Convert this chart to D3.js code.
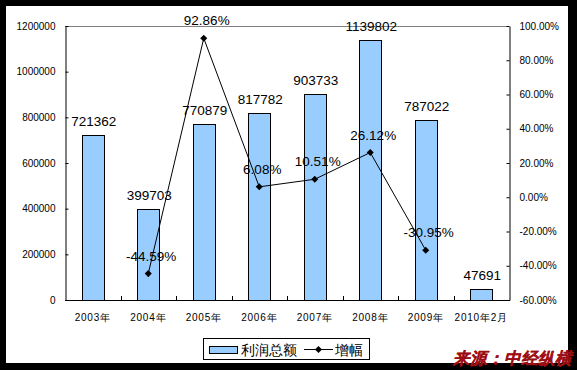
<!DOCTYPE html>
<html><head><meta charset="utf-8">
<script src="https://cdn.jsdelivr.net/npm/d3@7"></script>
<style>
html,body{margin:0;padding:0;background:#fff;}
text{font-family:Arial,"Liberation Sans",sans-serif;}
</style></head>
<body><svg id="c" width="577" height="370"></svg>
<script>
const categories = ["2003年","2004年","2005年","2006年","2007年","2008年","2009年","2010年2月"];
const profitTotal = [721362,399703,770879,817782,903733,1139802,787022,47691];
const growth = [null,-44.59,92.86,6.08,10.51,26.12,-30.95,null];
const leftTicks = [0,200000,400000,600000,800000,1000000,1200000];
const rightTicks = [-60,-40,-20,0,20,40,60,80,100];
const seriesNames = ["利润总额","增幅"];
const sourceText = "来源：中经纵横";

const svg = d3.select("#c");
const W = 577, H = 370;
const m = {l:65, r:509, t:26, b:300};
const pct = d => d.toFixed(2) + "%";

svg.append("rect").attr("width",W).attr("height",H).attr("fill","#000");
svg.append("rect").attr("x",6).attr("y",6).attr("width",562).attr("height",357).attr("fill","#fff");

const x = d3.scaleBand().domain(categories).range([m.l,m.r]).padding(0);
const yL = d3.scaleLinear().domain([0,1200000]).range([m.b,m.t]);
const yR = d3.scaleLinear().domain([-60,100]).range([m.b,m.t]);

// top border of plot area
svg.append("line").attr("x1",m.l).attr("x2",m.r).attr("y1",m.t+0.5).attr("y2",m.t+0.5)
  .attr("stroke","#808080").attr("stroke-width",1);

// bars
const bw = x.bandwidth()*0.4;
svg.append("g").selectAll("rect").data(profitTotal).join("rect")
  .attr("x",(d,i)=>Math.round(x(categories[i])+x.bandwidth()/2-bw/2)+0.5)
  .attr("y",d=>Math.round(yL(d))+0.5)
  .attr("width",Math.round(bw))
  .attr("height",d=>m.b-Math.round(yL(d)))
  .attr("fill","#99ccff").attr("stroke","#000").attr("stroke-width",1);

// left axis
const gL = svg.append("g").attr("transform",`translate(${m.l+0.5},0)`)
  .call(d3.axisLeft(yL).tickValues(leftTicks).tickFormat(d=>String(d)).tickSize(-3).tickSizeOuter(0).tickPadding(10));
gL.select(".domain").attr("stroke","#000");
gL.selectAll(".tick line").attr("stroke","#000");
gL.selectAll("text").attr("font-size","10px").attr("fill","#000").attr("font-family","Arial");

// right axis
const gR = svg.append("g").attr("transform",`translate(${m.r+0.5},0)`)
  .call(d3.axisRight(yR).tickValues(rightTicks).tickFormat(pct).tickSize(-3).tickSizeOuter(0).tickPadding(10));
gR.select(".domain").attr("stroke","#000");
gR.selectAll(".tick line").attr("stroke","#000");
gR.selectAll("text").attr("font-size","10px").attr("fill","#000").attr("font-family","Arial");

// bottom axis
svg.append("line").attr("x1",m.l).attr("x2",m.r+1).attr("y1",m.b+0.5).attr("y2",m.b+0.5).attr("stroke","#000");
const bounds = categories.map(c=>x(c)).slice(1);
svg.append("g").selectAll("line").data(bounds).join("line")
  .attr("x1",d=>Math.round(d)+0.5).attr("x2",d=>Math.round(d)+0.5)
  .attr("y1",m.b).attr("y2",m.b-4).attr("stroke","#000");
svg.append("g").selectAll("text").data(categories).join("text")
  .attr("x",d=>x(d)+x.bandwidth()/2).attr("y",321)
  .attr("text-anchor","middle").attr("font-size","10px").attr("letter-spacing","0.8px")
  .attr("font-family","Arial, 'Noto Sans CJK SC'")
  .text(d=>d);

// bar labels
svg.append("g").selectAll("text").data(profitTotal).join("text")
  .attr("x",(d,i)=>x(categories[i])+x.bandwidth()/2+1)
  .attr("y",d=>yL(d)-9)
  .attr("text-anchor","middle").attr("font-size","13.5px").attr("fill","#000")
  .text(d=>d);

// line
const pts = growth.map((g,i)=>({g,c:categories[i]})).filter(p=>p.g!==null);
const line = d3.line().x(p=>x(p.c)+x.bandwidth()/2).y(p=>yR(p.g));
svg.append("path").datum(pts).attr("d",line).attr("fill","none").attr("stroke","#000").attr("stroke-width",1);
const sym = d3.symbol().type(d3.symbolSquare).size(25);
svg.append("g").selectAll("path").data(pts).join("path")
  .attr("d",sym)
  .attr("transform",p=>`translate(${x(p.c)+x.bandwidth()/2},${yR(p.g)}) rotate(45)`)
  .attr("fill","#000");
svg.append("g").selectAll("text").data(pts).join("text")
  .attr("x",p=>x(p.c)+x.bandwidth()/2+3)
  .attr("y",p=>yR(p.g)-13)
  .attr("text-anchor","middle").attr("font-size","13.5px").attr("fill","#000")
  .text(p=>pct(p.g));

// legend
const lg = svg.append("g");
lg.append("rect").attr("x",203.5).attr("y",338.5).attr("width",166).attr("height",21)
  .attr("fill","#fff").attr("stroke","#000");
lg.append("rect").attr("x",209.5).attr("y",346.5).attr("width",28).attr("height",7)
  .attr("fill","#99ccff").attr("stroke","#000");
lg.append("text").attr("x",241).attr("y",354.5).attr("font-size","13.5px")
  .attr("font-family","'Noto Sans CJK SC'").text(seriesNames[0]);
lg.append("line").attr("x1",304).attr("x2",333).attr("y1",349.5).attr("y2",349.5).attr("stroke","#000");
lg.append("path").attr("d",sym).attr("transform","translate(318.5,349.5) rotate(45)").attr("fill","#000");
lg.append("text").attr("x",335).attr("y",354.5).attr("font-size","13.5px")
  .attr("font-family","'Noto Sans CJK SC'").text(seriesNames[1]);

// source watermark
svg.append("text").attr("x",572).attr("y",364).attr("text-anchor","end")
  .attr("font-size","16.5px").attr("font-weight","bold").attr("font-style","italic")
  .attr("font-family","'Noto Sans CJK SC'").attr("fill","#c8161d")
  .attr("stroke","#9a0f14").attr("stroke-width",0.3)
  .text(sourceText);
</script></body></html>
